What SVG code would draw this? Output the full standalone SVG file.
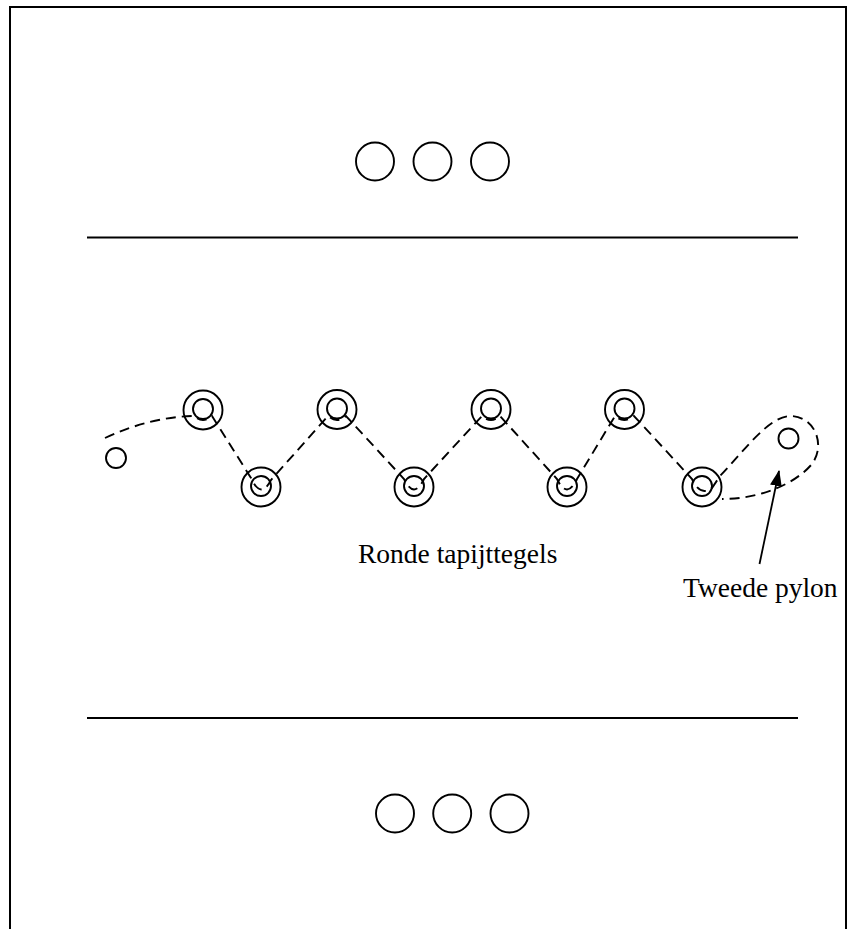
<svg xmlns="http://www.w3.org/2000/svg" width="854" height="929" viewBox="0 0 854 929">
<defs>
<style>
.ln{stroke:#000;stroke-width:2;fill:none}
.c{stroke:#000;stroke-width:1.9;fill:none}
.d{stroke:#000;stroke-width:1.9;fill:none;stroke-dasharray:10,6}
.t{font-family:"Liberation Serif","Times New Roman",serif;font-size:27.5px;fill:#000}
</style>
<marker id="ah" markerWidth="16" markerHeight="12" refX="15" refY="6" orient="auto" markerUnits="userSpaceOnUse" viewBox="0 0 16 12">
<path d="M0,0 L16,6 L0,12 z" fill="#000"/>
</marker>
</defs>
<rect width="854" height="929" fill="#fff"/>
<g id="frame">
<path class="ln" d="M10,929 V7 H846 V929"/>
<line class="ln" x1="87" y1="237.5" x2="798" y2="237.5"/>
<line class="ln" x1="87" y1="718" x2="798" y2="718"/>
</g>
<g id="top-circles">
<circle class="c" cx="375" cy="161.5" r="19"/>
<circle class="c" cx="432.5" cy="161.5" r="19"/>
<circle class="c" cx="490" cy="161.5" r="19"/>
</g>
<g id="bottom-circles">
<circle class="c" cx="395" cy="813.5" r="19"/>
<circle class="c" cx="452.2" cy="813.5" r="19"/>
<circle class="c" cx="509.5" cy="813.5" r="19"/>
</g>
<g id="start-pylon"><circle class="c" cx="116" cy="458" r="10"/></g>
<g id="tile-u1"><circle class="c" cx="203" cy="410" r="19.5"/><circle class="c" cx="203" cy="409" r="10"/></g>
<g id="tile-l1"><circle class="c" cx="261" cy="487" r="19.5"/><circle class="c" cx="261" cy="486" r="10"/></g>
<g id="tile-u2"><circle class="c" cx="337" cy="409.5" r="19.5"/><circle class="c" cx="337" cy="408.5" r="10"/></g>
<g id="tile-l2"><circle class="c" cx="414" cy="487" r="19.5"/><circle class="c" cx="414" cy="486" r="10"/></g>
<g id="tile-u3"><circle class="c" cx="491" cy="409.5" r="19.5"/><circle class="c" cx="491" cy="408.5" r="10"/></g>
<g id="tile-l3"><circle class="c" cx="567" cy="487" r="19.5"/><circle class="c" cx="567" cy="486" r="10"/></g>
<g id="tile-u4"><circle class="c" cx="624.5" cy="409.5" r="19.5"/><circle class="c" cx="624.5" cy="408.5" r="10"/></g>
<g id="tile-l4"><circle class="c" cx="702" cy="487" r="19.5"/><circle class="c" cx="702" cy="486" r="10"/></g>
<g id="second-pylon"><circle class="c" cx="788.5" cy="438.5" r="10"/></g>
<g id="connectors">
<path class="d" d="M105,438 Q150,417 194,416 Q203,424 212,416 L251,478 Q261,500 271,480 L328,416 Q337,424 346,416 L404,479 Q414,500 424,479 L482,416 Q491,424 500,416 L557,479 Q567,500 577,479 L615,416 Q624,424 634,416 L692,479 Q700,497 712,488 L720,476 C745,450 768,417 790,416 C815,416 826,445 812,464 C795,484 760,499 722,499"/>
<line x1="759.5" y1="564" x2="779" y2="471" stroke="#000" stroke-width="1.8" marker-end="url(#ah)"/>
</g>
<g id="labels">
<text class="t" x="358" y="563">Ronde tapijttegels</text>
<text class="t" x="683" y="597">Tweede pylon</text>
</g>
</svg>
